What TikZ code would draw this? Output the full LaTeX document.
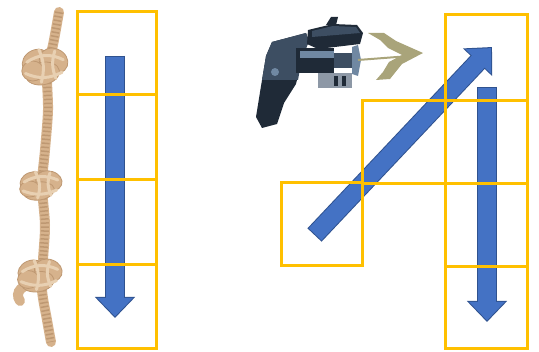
\documentclass[tikz,border=0pt]{standalone}
\usetikzlibrary{arrows.meta}

\definecolor{boxgold}{HTML}{FFC000}
\definecolor{arrowfill}{HTML}{4472C4}
\definecolor{arrowedge}{HTML}{2F528F}
\definecolor{ropetan}{RGB}{214,178,140}
\definecolor{ropedark}{RGB}{190,152,114}
\definecolor{ropelight}{RGB}{232,208,178}
\definecolor{gundark}{HTML}{1F2A37}
\definecolor{gunmid}{HTML}{3D4E62}
\definecolor{gunlight}{HTML}{7088A2}
\definecolor{gungray}{HTML}{8D98A6}
\definecolor{harpoon}{HTML}{A9A47A}

\tikzset{
  cell/.style={draw=boxgold, line width=3pt, inner sep=0pt, outer sep=0pt},
  blockarrow/.style={draw=arrowfill, line width=17.5pt, shorten <=1pt, shorten >=1.5pt,
    -{Triangle[width=34.5pt,length=18.5pt]},
    preaction={draw=arrowedge, line width=19.5pt, shorten <=0pt, shorten >=0pt,
      -{Triangle[width=39pt,length=21pt]}}},
  ropeline/.style={draw=ropetan, line width=10pt, line cap=round},
  ropetwist/.style={draw=ropedark, line width=8pt, dash pattern=on 1.5pt off 2.5pt},
  ropelobe/.style={fill=ropetan, draw=ropedark, line width=0.8pt},
  ropeband/.style={draw=ropelight, line width=3pt, line cap=round}
}

\begin{document}
\begin{tikzpicture}[x=1pt, y=-1pt]
  \useasboundingbox (0,0) rectangle (539,352);

  % Rope
  \draw[ropeline] (38,283) .. controls (22,284) and (14,292) .. (20,301);
  \foreach \s in {ropeline, ropetwist}
    \draw[\s] plot[smooth] coordinates {(59,12) (53,45) (47,70) (48,110) (45,150)
      (42,185) (45,225) (43,260) (42,290) (47,320) (51,342)};
  \foreach \kx/\ky/\sx/\sy in {45/66/1.22/1.25, 41/185/1.12/1.0, 40/275/1.18/1.12}{
    \begin{scope}[shift={(\kx,\ky)}, xscale=\sx, yscale=\sy]
      \foreach \ax/\ay/\bx/\by/\ang in {-7/-3/12/10/25, 7/-4/12/10/-20, -2/6/14/9/10, -10/4/9/8/0}
        \draw[ropelobe, rotate around={\ang:(\ax,\ay)}] (\ax,\ay) ellipse[x radius=\bx, y radius=\by];
      \draw[ropeband] (-15,-3) to[bend left=30] (15,-5);
      \draw[ropeband] (-16,6) to[bend right=25] (14,5);
      \draw[ropeband] (-5,-13) to[bend left=20] (-3,13);
      \draw[ropeband] (8,-12) to[bend right=20] (9,10);
    \end{scope}
  }

  % Grappling gun
  \fill[gundark] (272,42) -- (306,33) -- (309,41) -- (302,58) -- (296,84) -- (284,103)
    -- (277,124) -- (262,128) -- (256,117) -- (261,86) -- (266,56) -- cycle;
  \fill[gunmid] (272,42) -- (306,33) -- (309,41) -- (302,58) -- (298,80) -- (262,80)
    -- (266,56) -- cycle;
  \fill[gunlight] (275,72) circle (4);
  \fill[gundark] (326,25) -- (331,17) -- (338,17) -- (336,25) -- cycle;
  \fill[gundark] (308,30) -- (333,24) -- (357,25) -- (363,33) -- (360,44) -- (318,49)
    -- (307,44) -- cycle;
  \fill[gunmid] (312,31) -- (333,26) -- (356,27) -- (360,33) -- (312,37) -- cycle;
  \fill[gundark] (296,48) rectangle (334,73);
  \fill[gunlight] (300,51) rectangle (334,58);
  \fill[gunmid] (334,53) rectangle (352,68);
  \fill[gunlight] (352,47) -- (358,45) -- (361,60) -- (358,76) -- (352,74) -- cycle;
  \fill[gungray] (318,73) rectangle (352,88);
  \fill[gundark] (334,76) rectangle (338,86);
  \fill[gundark] (342,76) rectangle (346,86);
  \draw[harpoon, line width=2pt] (358,60) -- (410,56);
  \fill[harpoon] (423,53) -- (396,41) -- (384,33) -- (368,33) -- (380,40) -- (388,48)
    -- (402,55) -- (389,62) -- (383,72) -- (376,80) -- (390,79) -- (402,64) -- cycle;

  % Arrows
  \coordinate (ltail) at (115,56);
  \coordinate (ltip) at (115,318);
  \coordinate (dtail) at (314.5,235);
  \coordinate (dtip) at (492,47);
  \coordinate (rtail) at (487,87);
  \coordinate (rtip) at (487,322);
  \draw[blockarrow] (ltail) -- (ltip);
  \draw[blockarrow] (dtail) -- (dtip);
  \draw[blockarrow] (rtail) -- (rtip);

  % Boxes
  \foreach \n/\top/\bot in {1/11.7/95, 2/95/180, 3/180/265, 4/265/348.5}
    \node[cell, minimum width=79pt, minimum height={(\bot-\top)*1pt}]
      (k\n) at ({117.2},{(\top+\bot)/2}) {};
  \foreach \n/\top/\bot in {1/14.3/101, 2/101/184, 3/184/266.7, 4/266.7/348.5}
    \node[cell, minimum width=81.6pt, minimum height={(\bot-\top)*1pt}]
      (g\n) at ({486.5},{(\top+\bot)/2}) {};
  \node[cell, minimum width=83pt, minimum height=83pt] (s2) at (404.2,142.5) {};
  \node[cell, minimum width=81.7pt, minimum height=83pt] (s1) at (321.85,224.5) {};
\end{tikzpicture}
\end{document}
